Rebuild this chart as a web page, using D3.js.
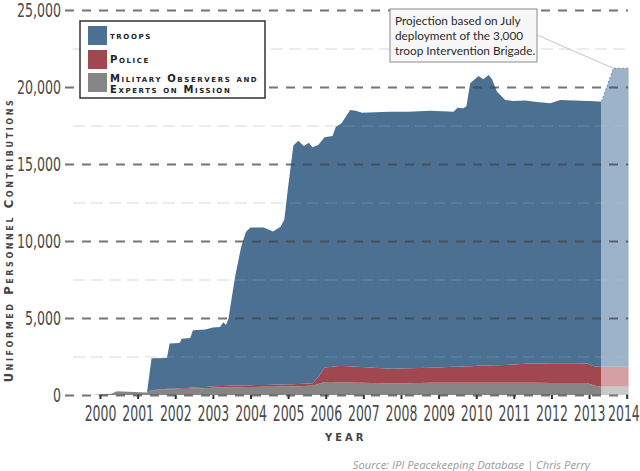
<!DOCTYPE html>
<html>
<head>
<meta charset="utf-8">
<script src="https://cdn.jsdelivr.net/npm/d3@7"></script>
<style>
  html, body { margin: 0; padding: 0; background: #fff; }
  svg { display: block; }
</style>
</head>
<body>
<svg id="chart" width="640" height="471"></svg>
<script>
// ---- data ----
const dates = [1999.78, 2000.0, 2000.3, 2000.45, 2000.9, 2001.25, 2001.37, 2001.78, 2001.85, 2002.12,
  2002.17, 2002.4, 2002.47, 2002.8, 2003.0, 2003.19, 2003.28, 2003.35, 2003.42, 2003.5,
  2003.6, 2003.75, 2003.88, 2004.0, 2004.35, 2004.6, 2004.8, 2004.9, 2005.0, 2005.14,
  2005.27, 2005.42, 2005.55, 2005.65, 2005.8, 2005.97, 2006.18, 2006.27, 2006.42, 2006.65,
  2006.8, 2006.96, 2007.5, 2007.75, 2008.2, 2008.78, 2009.4, 2009.5, 2009.66, 2009.74,
  2009.84, 2010.06, 2010.19, 2010.33, 2010.42, 2010.55, 2010.77, 2010.99, 2011.3, 2011.61,
  2011.97, 2012.23, 2012.6, 2012.94, 2013.16, 2013.33];
const observers = [0, 50, 80, 240, 190, 160, 300, 370, 375, 385,
  390, 410, 415, 445, 470, 480, 485, 490, 495, 500,
  505, 510, 515, 520, 530, 540, 550, 555, 560, 568,
  575, 585, 593, 600, 720, 850, 840, 835, 820, 810,
  800, 795, 760, 740, 760, 790, 795, 795, 798, 798,
  799, 800, 800, 800, 800, 798, 796, 794, 792, 788,
  785, 782, 778, 772, 600, 540];
const police = [0, 0, 0, 0, 0, 0, 10, 30, 30, 45,
  50, 60, 65, 80, 100, 105, 105, 108, 110, 110,
  112, 115, 118, 120, 122, 125, 128, 129, 130, 135,
  140, 150, 155, 160, 450, 940, 1000, 1030, 1060, 1050,
  1040, 1030, 970, 970, 975, 985, 1040, 1045, 1060, 1065,
  1075, 1100, 1110, 1120, 1130, 1140, 1160, 1190, 1245, 1265,
  1275, 1280, 1280, 1280, 1240, 1300];
const troops = [0, 0, 0, 0, 0, 0, 2070, 2000, 2945, 2950,
  3210, 3230, 3720, 3725, 3810, 3835, 4130, 3952, 4395, 5690,
  7183, 8975, 9967, 10240, 10228, 9955, 10252, 10716, 12810, 15497,
  15795, 15435, 15632, 15320, 15060, 14940, 14980, 15555, 15760, 16640,
  16610, 16505, 16650, 16680, 16665, 16685, 16565, 16820, 16762, 16887,
  18366, 18810, 18590, 18860, 18570, 17762, 17204, 17106, 17083, 16977,
  16880, 17098, 17062, 17038, 17240, 17210];

// projection (July 2013 Intervention Brigade)
const projDates = [2013.33, 2013.65, 2014.05];
const projObservers = [540, 540, 540];
const projPolice = [1300, 1300, 1300];
const projTroops = [17210, 19370, 19370];

const yearTicks = [2000, 2001, 2002, 2003, 2004, 2005, 2006, 2007, 2008, 2009, 2010, 2011, 2012, 2013, 2014];
const majorTicks = [0, 5000, 10000, 15000, 20000, 25000];
const minorTicks = [2500, 7500, 12500, 17500, 22500];

const seriesKeys = ["observers", "police", "troops"];
const seriesLabels = ["troops", "Police", ["Military Observers and", "Experts on Mission"]];

// ---- drawing ----
const svg = d3.select("#chart");
const x = d3.scaleLinear().domain([2000, 2014]).range([100, 626.7]);
const y = d3.scaleLinear().domain([0, 25000]).range([395, 10]);

const colors = { troops: "#4b7092", police: "#a1474f", observers: "#858585" };
const projColors = { troops: "#9db3c9", police: "#d59fa4", observers: "#c9c9c9" };

const rows = dates.map((d, i) => ({ date: d, observers: observers[i], police: police[i], troops: troops[i] }));
const projRows = projDates.map((d, i) => ({ date: d, observers: projObservers[i], police: projPolice[i], troops: projTroops[i] }));

const stack = d3.stack().keys(seriesKeys);
const area = d3.area().x(d => x(d.data.date)).y0(d => y(d[0])).y1(d => y(d[1]));

// minor gridlines (behind)
svg.append("g")
  .attr("transform", "translate(73,0)")
  .call(d3.axisLeft(y).tickValues(minorTicks).tickSize(-(628 - 73)).tickFormat(""))
  .call(g => g.select(".domain").remove())
  .selectAll("line").attr("stroke", "#e4e4e4").attr("stroke-width", 1.2).attr("stroke-dasharray", "12,6");

// areas
svg.append("g").selectAll("path").data(stack(rows)).join("path")
  .attr("d", area).attr("fill", d => colors[d.key]);

svg.append("g").selectAll("path").data(stack(projRows)).join("path")
  .attr("d", area).attr("fill", d => projColors[d.key]);

// dashed outline on projection top
const projTop = stack(projRows)[2];
svg.append("path")
  .attr("d", d3.line().x(d => x(d.data.date)).y(d => y(d[1]))(projTop))
  .attr("fill", "none").attr("stroke", "#7f97ae").attr("stroke-width", 1.2).attr("stroke-dasharray", "2,2");

// minor gridlines faintly on top
svg.append("g")
  .attr("transform", "translate(73,0)")
  .call(d3.axisLeft(y).tickValues(minorTicks).tickSize(-(628 - 73)).tickFormat(""))
  .call(g => g.select(".domain").remove())
  .selectAll("line").attr("stroke", "rgba(200,210,220,0.25)").attr("stroke-width", 1.2).attr("stroke-dasharray", "12,6");

// major dashed gridlines
svg.append("g")
  .attr("transform", "translate(65,0)")
  .call(d3.axisLeft(y).tickValues(majorTicks).tickSize(-(628 - 65)).tickFormat(""))
  .call(g => g.select(".domain").remove())
  .selectAll("line").attr("stroke", "rgba(70,70,70,0.75)").attr("stroke-width", 2).attr("stroke-dasharray", "9,8");

// y axis labels
const yAx = svg.append("g")
  .attr("transform", "translate(61,0)")
  .call(d3.axisLeft(y).tickValues(majorTicks).tickSize(0).tickPadding(0).tickFormat(d3.format(",")));
yAx.select(".domain").remove();
yAx.selectAll("text")
  .attr("x", 0)
  .attr("dy", "0.34em")
  .attr("transform", "scale(0.7,1)")
  .attr("fill", "#4a4a4a")
  .style("font-family", "'Liberation Sans Narrow', 'DejaVu Sans Condensed', sans-serif")
  .style("font-size", "20px");

// x axis
const xAx = svg.append("g")
  .attr("transform", "translate(0,395)")
  .call(d3.axisBottom(x).tickValues(yearTicks).tickFormat(d3.format("d")).tickSize(4).tickPadding(7));
xAx.select(".domain").remove();
xAx.selectAll("line").attr("stroke", "#333").attr("stroke-width", 2);
xAx.selectAll("text")
  .attr("transform", "scale(0.66,1)")
  .attr("dx", d => d === 2014 ? -5 : 0)
  .attr("fill", "#4a4a4a")
  .style("font-family", "'Liberation Sans Narrow', 'DejaVu Sans Condensed', sans-serif")
  .style("font-size", "21px");

// axis titles
svg.append("text")
  .attr("transform", "translate(13,240) rotate(-90)")
  .attr("text-anchor", "middle")
  .attr("fill", "#444")
  .style("font-family", "'DejaVu Sans', sans-serif")
  .style("font-weight", "bold")
  .style("font-variant", "small-caps")
  .style("font-size", "11.5px")
  .style("letter-spacing", "2.6px")
  .text("Uniformed Personnel Contributions");

svg.append("text")
  .attr("x", 325).attr("y", 441)
  .attr("fill", "#444")
  .style("font-family", "'DejaVu Sans', sans-serif")
  .style("font-weight", "bold")
  .style("font-size", "10px")
  .style("letter-spacing", "3px")
  .text("YEAR");

svg.append("text")
  .attr("x", 590).attr("y", 469)
  .attr("text-anchor", "end")
  .attr("fill", "#9a9a9a")
  .style("font-family", "'Open Sans', sans-serif")
  .style("font-style", "italic")
  .style("font-size", "11.2px")
  .text("Source: IPI Peacekeeping Database | Chris Perry");

// legend
const legend = svg.append("g");
legend.append("rect").attr("x", 80).attr("y", 21).attr("width", 185).attr("height", 77)
  .attr("fill", "#fff").attr("stroke", "#333").attr("stroke-width", 1.5);
const legendKeys = ["troops", "police", "observers"];
const swY = [26, 50, 73];
legendKeys.forEach((k, i) => {
  legend.append("rect").attr("x", 88).attr("y", swY[i]).attr("width", 19).attr("height", 19).attr("fill", colors[k]);
  const lab = seriesLabels[i];
  const lines = Array.isArray(lab) ? lab : [lab];
  const t = legend.append("text")
    .attr("fill", "#222")
    .style("font-family", "'DejaVu Sans', sans-serif")
    .style("font-weight", "bold")
    .style("font-variant", "small-caps")
    .style("font-size", "10px")
    .style("letter-spacing", "1.6px");
  if (lines.length === 1) {
    t.attr("x", 110).attr("y", swY[i] + 13).text(lines[0]);
  } else {
    lines.forEach((ln, j) => {
      t.append("tspan").attr("x", 110).attr("y", swY[i] + 9 + j * 11).text(ln);
    });
  }
});

// annotation
svg.append("line")
  .attr("x1", 537).attr("y1", 35).attr("x2", x(2013.65)).attr("y2", y(21210))
  .attr("stroke", "#c8c8c8").attr("stroke-width", 1);
svg.append("rect").attr("x", 390).attr("y", 9).attr("width", 147).attr("height", 53)
  .attr("fill", "#f7f7f7").attr("stroke", "#8a8a8a").attr("stroke-width", 1);
const ann = svg.append("text")
  .attr("fill", "#2a2a2a")
  .style("font-family", "'Lato', 'Open Sans', sans-serif")
  .style("font-size", "11.8px");
["Projection based on July", "deployment of the 3,000", "troop Intervention Brigade."].forEach((ln, j) => {
  ann.append("tspan").attr("x", 395).attr("y", 25 + j * 15).text(ln);
});
</script>
</body>
</html>
